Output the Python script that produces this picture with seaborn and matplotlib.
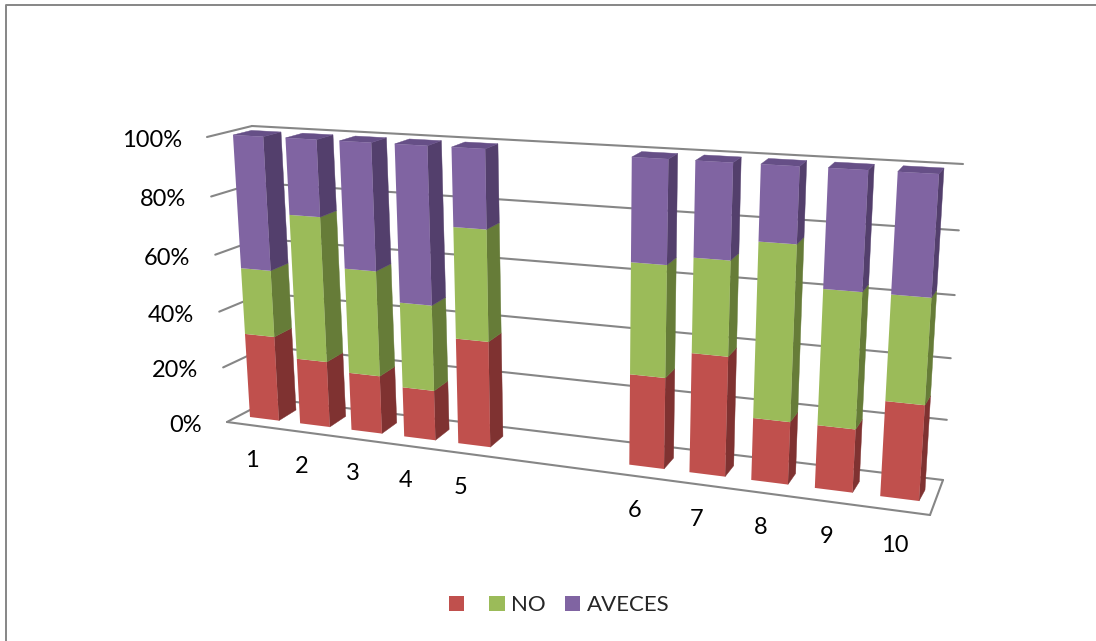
import numpy as np
import matplotlib
matplotlib.use("Agg")
import matplotlib.pyplot as plt
from matplotlib.patches import Patch
from matplotlib.transforms import Transform
import seaborn as sns

categories = ["1", "2", "3", "4", "5", "6", "7", "8", "9", "10"]
# the chart leaves two empty slots between 5 and 6
slots = [1, 2, 3, 4, 5, 8, 9, 10, 11, 12]
si_values = [30.5, 23.5, 20.5, 17.5, 36.5, 30.5, 39.5, 20.5, 20.5, 30.5]
no_values = [23.5, 50.5, 36.5, 29.5, 37.5, 36.5, 30.5, 56, 43, 33]
aveces_values = [46, 26, 43, 53, 26, 33, 30, 23.5, 36.5, 36.5]
series_names = ["", "NO", "AVECES"]
pct_ticks = [0, 20, 40, 60, 80, 100]

BAR_HALF = 0.29
FRONT_COLORS = sns.color_palette(["#C0504D", "#9BBB59", "#8064A2"])
SIDE_COLORS = ["#7F3231", "#667C38", "#533F6C"]
TOP_COLOR = "#664F87"
GRID_COLOR = "#868686"


class Plane(Transform):
    # maps (slot, percent) onto picture pixels, so the 3D look of the excel chart survives
    input_dims = 2
    output_dims = 2

    def __init__(self, src, dst):
        super().__init__()
        rows, rhs = [], []
        for (x, y), (u, v) in zip(src, dst):
            rows.append([x, y, 1, 0, 0, 0, -u * x, -u * y])
            rows.append([0, 0, 0, x, y, 1, -v * x, -v * y])
            rhs += [u, v]
        self.m = np.append(np.linalg.solve(rows, rhs), 1).reshape(3, 3)

    def transform_non_affine(self, values):
        pts = np.column_stack([values, np.ones(len(values))]) @ self.m.T
        return pts[:, :2] / pts[:, 2:]


# calibration of the planes
bar_front = Plane([(1 - BAR_HALF, 0), (1 - BAR_HALF, 100), (12 + BAR_HALF, 0), (12 + BAR_HALF, 100)],
                  [(250, 417), (233, 135), (919, 501), (939, 174)])
bar_back = Plane([(1 + BAR_HALF, 0), (1 + BAR_HALF, 100), (12 + BAR_HALF, 0), (12 + BAR_HALF, 100)],
                 [(296, 410), (281, 132), (925, 490), (944, 168)])
wall_back = Plane([(0.5, 0), (0.5, 100), (12.5, 0), (12.5, 100)],
                  [(271, 399), (252, 126), (943, 480), (963, 164)])
wall_front = Plane([(0.5, 0), (0.5, 100), (12.5, 0), (12.5, 100)],
                   [(227, 422), (207, 137), (930, 515), (953, 173)])

sns.set_theme(style="white")
plt.rcParams["font.family"] = ["Lato", "DejaVu Sans"]

fig, ax = plt.subplots(figsize=(10.96, 6.41), dpi=100)
ax.set_position([0, 0, 1, 1])
ax.axis("off")


def on_plane(plane, x, y):
    return plane.transform(np.array([[x, y]], dtype=float))[0]


# walls and floor
for p in pct_ticks:
    ax.plot([0.5, 12.5], [p, p], color=GRID_COLOR, lw=1.5, transform=wall_back + ax.transData, zorder=1)
    a, b = on_plane(wall_front, 0.5, p), on_plane(wall_back, 0.5, p)
    ax.plot([a[0], b[0]], [a[1], b[1]], color=GRID_COLOR, lw=1.5, zorder=1)
ax.plot([0.5, 12.5], [0, 0], color=GRID_COLOR, lw=1.5, transform=wall_front + ax.transData, zorder=1)
a, b = on_plane(wall_front, 12.5, 0), on_plane(wall_back, 12.5, 0)
ax.plot([a[0], b[0]], [a[1], b[1]], color=GRID_COLOR, lw=1.5, zorder=1)

# stacked columns: side and top faces first, then the front through ax.bar
stack = np.array([si_values, no_values, aveces_values], dtype=float)
bottoms = np.vstack([np.zeros(len(slots)), stack.cumsum(axis=0)[:-1]])
for k in range(3):
    for i, x in enumerate(slots):
        lo, hi = bottoms[k, i], bottoms[k, i] + stack[k, i]
        r = x + BAR_HALF
        side = [on_plane(bar_front, r, lo), on_plane(bar_back, r, lo),
                on_plane(bar_back, r, hi), on_plane(bar_front, r, hi)]
        ax.fill(*zip(*side), color=SIDE_COLORS[k], lw=0.3, zorder=2 + i)
    ax.bar(slots, stack[k], bottom=bottoms[k], width=2 * BAR_HALF, color=FRONT_COLORS[k], lw=0,
           transform=bar_front + ax.transData, zorder=20)

for x in slots:
    l, r = x - BAR_HALF, x + BAR_HALF
    top = [on_plane(bar_front, l, 100), on_plane(bar_back, l, 100),
           on_plane(bar_back, r, 100), on_plane(bar_front, r, 100)]
    ax.fill(*zip(*top), color=TOP_COLOR, lw=0.3, zorder=15)

# axis labels
for p in pct_ticks:
    ax.annotate(f"{p}%", xy=(0.5, p), xycoords=wall_front + ax.transData, xytext=(-25, -3.5),
                textcoords="offset pixels", ha="right", va="center", fontsize=17, color="black")
for name, x in zip(categories, slots):
    ax.annotate(name, xy=(x, 0), xycoords=wall_front + ax.transData, xytext=(0, -35),
                textcoords="offset pixels", ha="center", va="center", fontsize=17, color="black")

# outer frame, only left and top show in the picture
ax.plot([5.5, 5.5, 1096], [641, 4.5, 4.5], color=GRID_COLOR, lw=1.4, zorder=1)

handles = [Patch(facecolor=c, lw=0, label=n) for c, n in zip(FRONT_COLORS, series_names)]
ax.legend(handles=handles, ncol=3, loc="center", bbox_to_anchor=(559 / 1096, 1 - 605 / 641),
          frameon=False, fontsize=16, handlelength=0.68, handleheight=0.68,
          handletextpad=0.3, columnspacing=0.85, borderpad=0)

ax.set_xlim(0, 1096)
ax.set_ylim(641, 0)
fig.savefig("out.png", dpi=100, facecolor="white")
